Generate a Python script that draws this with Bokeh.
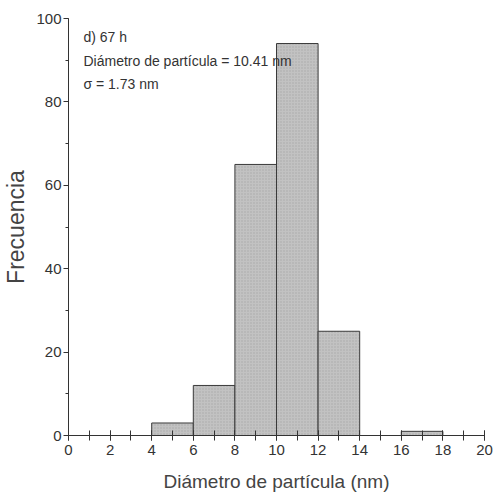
from bokeh.plotting import figure
from bokeh.embed import file_html
from bokeh.resources import INLINE
from bokeh.models import Range1d, FixedTicker, Label

bin_left = [4, 6, 8, 10, 12, 16]
bin_right = [6, 8, 10, 12, 14, 18]
counts = [3, 12, 65, 94, 25, 1]
x_ticks = [0, 2, 4, 6, 8, 10, 12, 14, 16, 18, 20]
y_ticks = [0, 20, 40, 60, 80, 100]
notes = ["d) 67 h", "Diámetro de partícula = 10.41 nm", "σ = 1.73 nm"]
note_y = [95.6, 89.7, 84.2]

FONT = "Liberation Sans"
INK = "#333333"

p = figure(width=494, height=494, output_backend="svg", toolbar_location=None,
           x_range=Range1d(0, 20), y_range=Range1d(0, 100),
           min_border_left=67, min_border_right=10, min_border_top=18, min_border_bottom=59)
p.outline_line_color = None
p.grid.visible = False

p.quad(left=bin_left, right=bin_right, bottom=0, top=counts,
       fill_color="#c2c2c2", line_color="#3a3a3a", line_width=1,
       hatch_pattern="dot", hatch_color="#949494", hatch_scale=3, hatch_alpha=0.6)

xa = p.xaxis[0]
xa.ticker = FixedTicker(ticks=x_ticks, minor_ticks=list(range(0, 21)))
xa.axis_label = "Diámetro de partícula (nm)"
ya = p.yaxis[0]
ya.ticker = FixedTicker(ticks=y_ticks, minor_ticks=list(range(0, 101, 10)))
ya.axis_label = "Frecuencia"

for ax in (xa, ya):
    ax.axis_line_color = INK
    ax.major_tick_line_color = INK
    ax.minor_tick_line_color = INK
    ax.major_label_text_font = FONT
    ax.major_label_text_font_size = "15px"
    ax.major_label_text_color = INK
    ax.axis_label_text_font_style = "normal"
    ax.axis_label_text_color = "#444444"
    ax.axis_label_text_font = FONT

xa.major_tick_in = 5
xa.major_tick_out = 5
xa.minor_tick_in = 5
xa.minor_tick_out = 5
xa.major_label_standoff = 4
xa.axis_label_text_font_size = "19px"
xa.axis_label_standoff = 13

ya.major_tick_in = 0
ya.major_tick_out = 5
ya.minor_tick_in = 0
ya.minor_tick_out = 3
ya.major_label_standoff = 2
ya.axis_label_text_font_size = "23px"
ya.axis_label_standoff = 4

for t, yy in zip(notes, note_y):
    p.add_layout(Label(x=0.72, y=yy, text=t, text_font=FONT, text_font_size="14px",
                       text_color=INK, text_baseline="middle"))

open("out.html", "w").write(file_html(p, INLINE))
